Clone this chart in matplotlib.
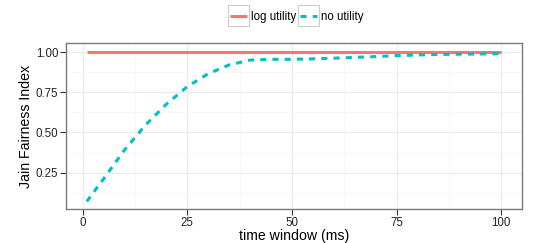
import numpy as np
import matplotlib
matplotlib.use('Agg')
import matplotlib.pyplot as plt
from matplotlib.patches import Rectangle

plt.rcParams['font.family'] = ['Liberation Sans', 'DejaVu Sans']

# data
t = [1, 5, 10, 15, 20, 25, 30, 35, 40, 45, 50, 55, 60, 65, 70, 75, 80, 85, 90, 95, 100]
log_utility = [1.0] * len(t)
no_utility = [0.07, 0.21, 0.39, 0.545, 0.675, 0.785, 0.865, 0.92, 0.95, 0.955, 0.955,
              0.958, 0.962, 0.967, 0.972, 0.978, 0.982, 0.985, 0.987, 0.988, 0.99]

x_ticks = [0, 25, 50, 75, 100]
y_ticks = [0.25, 0.50, 0.75, 1.00]

red = '#F8766D'
teal = '#00BFC4'

fig = plt.figure(figsize=(5.4, 2.43), dpi=100)
ax = fig.add_axes([66 / 540, 1 - 209 / 243, 456 / 540, 166 / 243])

ax.plot(t, log_utility, color=red, lw=2.2, label='log utility', solid_capstyle='butt')
ax.plot(t, no_utility, color=teal, lw=2.2, ls=(0, (2, 2)), label='no utility')

ax.set_xlim(-3.95, 104.95)
ax.set_ylim(0.0235, 1.0565)
ax.set_xticks(x_ticks)
ax.set_yticks(y_ticks)
ax.set_yticklabels([f'{v:.2f}' for v in y_ticks])
ax.set_xticks([12.5, 37.5, 62.5, 87.5], minor=True)
ax.set_yticks([0.125, 0.375, 0.625, 0.875], minor=True)
ax.grid(True, which='major', color='#EBEBEB', lw=0.8)
ax.grid(True, which='minor', color='#F5F5F5', lw=0.5)
ax.set_axisbelow(True)
ax.tick_params(which='major', length=4, width=0.8, color='#333333', labelsize=8.3,
               labelcolor='#222222', pad=1.5)
ax.tick_params(which='minor', length=0)
for s in ax.spines.values():
    s.set_color('#7a7a7a')
    s.set_linewidth(1.0)

ax.set_xlabel('time window (ms)', fontsize=10.2, labelpad=0)
ax.set_ylabel('Jain Fairness Index', fontsize=10.2, labelpad=2)

leg = fig.legend(loc='center', bbox_to_anchor=(297 / 540, 1 - 17 / 243), ncol=2,
                 frameon=False, fontsize=8.3, handlelength=1.5, handletextpad=0.35,
                 columnspacing=0.3, borderpad=0)

# ggplot-style key boxes
fig.canvas.draw()
inv = fig.transFigure.inverted()
for h in leg.legend_handles:
    bb = h.get_window_extent().transformed(inv)
    cx = (bb.x0 + bb.x1) / 2
    cy = (bb.y0 + bb.y1) / 2
    w, hgt = 21 / 540, 21 / 243
    fig.add_artist(Rectangle((cx - w / 2, cy - hgt / 2), w, hgt, transform=fig.transFigure,
                             fill=False, edgecolor='#CCCCCC', lw=0.8))

fig.savefig('out.png', dpi=100)
